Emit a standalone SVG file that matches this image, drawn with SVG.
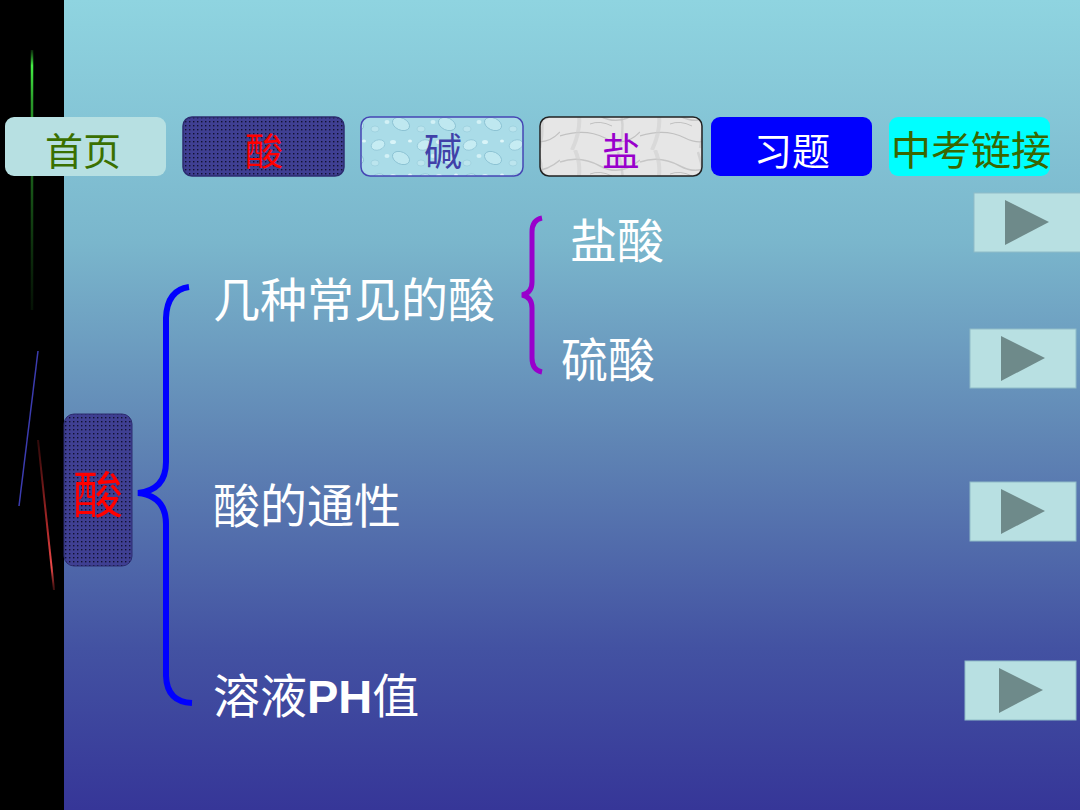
<svg xmlns="http://www.w3.org/2000/svg" width="1080" height="810" viewBox="0 0 1080 810">
<style>
.cjk{font-family:"Noto Sans CJK SC","Liberation Sans",sans-serif;}
.nav{font-size:38px;text-anchor:middle;}
.lbl{font-size:47px;fill:#ffffff;}
.navbox{stroke-width:1.5;}
.next rect{fill:#b8e0e2;stroke:#8fbcc8;stroke-width:1;}
.next polygon{fill:#6e8a8a;}
</style>
<defs>
<linearGradient id="bg" x1="0" y1="0" x2="0" y2="1">
<stop offset="0" stop-color="#8fd4e0"/>
<stop offset="0.3" stop-color="#7ab6cc"/>
<stop offset="0.55" stop-color="#5f84b4"/>
<stop offset="0.8" stop-color="#4352a2"/>
<stop offset="1" stop-color="#363698"/>
</linearGradient>
<pattern id="dots" width="4" height="4" patternUnits="userSpaceOnUse">
<rect width="4" height="4" fill="#3f3f92"/>
<rect x="1" y="1" width="1.4" height="1.4" fill="#101030"/>
</pattern>
<pattern id="water" width="46" height="34" patternUnits="userSpaceOnUse">
<rect width="46" height="34" fill="#aadce8"/>
<ellipse cx="10" cy="9" rx="7" ry="5" fill="#c6ecf3" stroke="#90c6d6" stroke-width="0.8" transform="rotate(-20 10 9)"/>
<ellipse cx="33" cy="22" rx="9" ry="6" fill="#bfe8f0" stroke="#86bed0" stroke-width="0.8" transform="rotate(25 33 22)"/>
<ellipse cx="25" cy="6" rx="3" ry="2" fill="#d8f4f8"/>
<ellipse cx="7" cy="27" rx="4" ry="3" fill="#bce5ee" stroke="#94c9d8" stroke-width="0.6"/>
<ellipse cx="42" cy="5" rx="2" ry="1.5" fill="#e0f7fa"/>
<ellipse cx="19" cy="20" rx="2.5" ry="2" fill="#d2f1f6"/>
</pattern>
<pattern id="marble" width="80" height="50" patternUnits="userSpaceOnUse">
<rect width="80" height="50" fill="#e6e6e6"/>
<path d="M0 12 Q20 5 40 16 T80 10" stroke="#b8b8b8" stroke-width="1.5" fill="none" opacity="0.7"/>
<path d="M0 36 Q25 28 45 38 T80 32" stroke="#a8a8a8" stroke-width="1.2" fill="none" opacity="0.6"/>
<path d="M15 0 Q25 22 12 50" stroke="#d0d0d0" stroke-width="4" fill="none" opacity="0.6"/>
<path d="M58 2 Q66 24 60 48" stroke="#c0c0c0" stroke-width="2.5" fill="none" opacity="0.5"/>
<path d="M30 24 Q40 20 52 26" stroke="#999999" stroke-width="1" fill="none" opacity="0.5"/>
</pattern>
<linearGradient id="gl" gradientUnits="userSpaceOnUse" x1="0" y1="50" x2="0" y2="310">
<stop offset="0" stop-color="#33cc33" stop-opacity="0.2"/>
<stop offset="0.06" stop-color="#44ee44"/>
<stop offset="0.2" stop-color="#2a9a2a"/>
<stop offset="1" stop-color="#1a5a1a" stop-opacity="0.2"/>
</linearGradient>
<linearGradient id="rl" gradientUnits="userSpaceOnUse" x1="0" y1="440" x2="0" y2="590">
<stop offset="0" stop-color="#a02020" stop-opacity="0.3"/>
<stop offset="0.6" stop-color="#b02a2a"/>
<stop offset="0.85" stop-color="#ee4a4a"/>
<stop offset="1" stop-color="#c03030" stop-opacity="0.3"/>
</linearGradient>
</defs>

<rect id="background" width="1080" height="810" fill="url(#bg)"/>
<g id="strip">
<rect x="0" y="0" width="64" height="810" fill="#000000"/>
<line x1="32" y1="50" x2="32" y2="310" stroke="url(#gl)" stroke-width="2.5"/>
<line x1="38" y1="351" x2="19" y2="506" stroke="#3c3cb0" stroke-width="1.5"/>
<line x1="38" y1="440" x2="54" y2="590" stroke="url(#rl)" stroke-width="2"/>
</g>

<g id="nav-home"><rect class="navbox" x="5" y="117" width="161" height="59" rx="9" fill="#b7e0e2"/><text class="cjk nav" x="83" y="165" fill="#3a7000">首页</text></g>
<g id="nav-acid"><rect class="navbox" x="183" y="117" width="161" height="59" rx="9" fill="url(#dots)" stroke="#2c2c70"/><text class="cjk nav" x="264" y="165" fill="#ff0000">酸</text></g>
<g id="nav-base"><rect class="navbox" x="361" y="117" width="162" height="59" rx="9" fill="url(#water)" stroke="#4646b4"/><text class="cjk nav" x="443" y="165" fill="#4040a8">碱</text></g>
<g id="nav-salt"><rect class="navbox" x="540" y="117" width="162" height="59" rx="9" fill="url(#marble)" stroke="#222222"/><text class="cjk nav" x="621" y="165" fill="#9900cc">盐</text></g>
<g id="nav-exercise"><rect class="navbox" x="711" y="117" width="161" height="59" rx="9" fill="#0000ff"/><text class="cjk nav" x="792" y="165" fill="#ffffff">习题</text></g>
<g id="nav-exam"><rect class="navbox" x="889" y="117" width="161" height="59" rx="9" fill="#00ffff"/><text class="cjk nav" x="971" y="165" fill="#3a6600" style="font-size:40px">中考链接</text></g>

<g id="root-acid"><rect x="64" y="414" width="68" height="152" rx="10" fill="url(#dots)" stroke="#2c2c70" stroke-width="1"/><text class="cjk" x="98" y="513" font-size="50" text-anchor="middle" fill="#ff0000">酸</text></g>

<g id="connectors" fill="none" stroke-linecap="butt">
<path d="M189 287 Q167 290 166 318 L166 462 Q166 490 138 493 Q166 496 166 524 L166 676 Q167 702 192 703" stroke="#0000ff" stroke-width="6"/>
<path d="M542 218 Q532 220 532 232 L532 282 Q532 293 522 295 Q532 297 532 308 L532 358 Q532 370 542 372" stroke="#9900cc" stroke-width="5"/>
</g>

<g id="n-common"><text class="cjk lbl" x="213" y="317">几种常见的酸</text></g>
<g id="n-hcl"><text class="cjk lbl" x="570" y="258">盐酸</text></g>
<g id="n-h2so4"><text class="cjk lbl" x="561" y="377">硫酸</text></g>
<g id="n-props"><text class="cjk lbl" x="213" y="523">酸的通性</text></g>
<g id="n-ph"><text class="cjk lbl" x="213" y="713">溶液<tspan font-family="Liberation Sans,sans-serif" font-weight="bold">PH</tspan>值</text></g>

<g id="btn1" class="next"><rect x="974" y="193" width="110" height="59"/><polygon points="1005,200 1049,222 1005,245"/></g>
<g id="btn2" class="next"><rect x="970" y="329" width="106" height="59"/><polygon points="1001,336 1045,358 1001,381"/></g>
<g id="btn3" class="next"><rect x="970" y="482" width="106" height="59"/><polygon points="1001,489 1045,511 1001,534"/></g>
<g id="btn4" class="next"><rect x="965" y="661" width="111" height="59"/><polygon points="999,668 1043,690 999,713"/></g>
</svg>
